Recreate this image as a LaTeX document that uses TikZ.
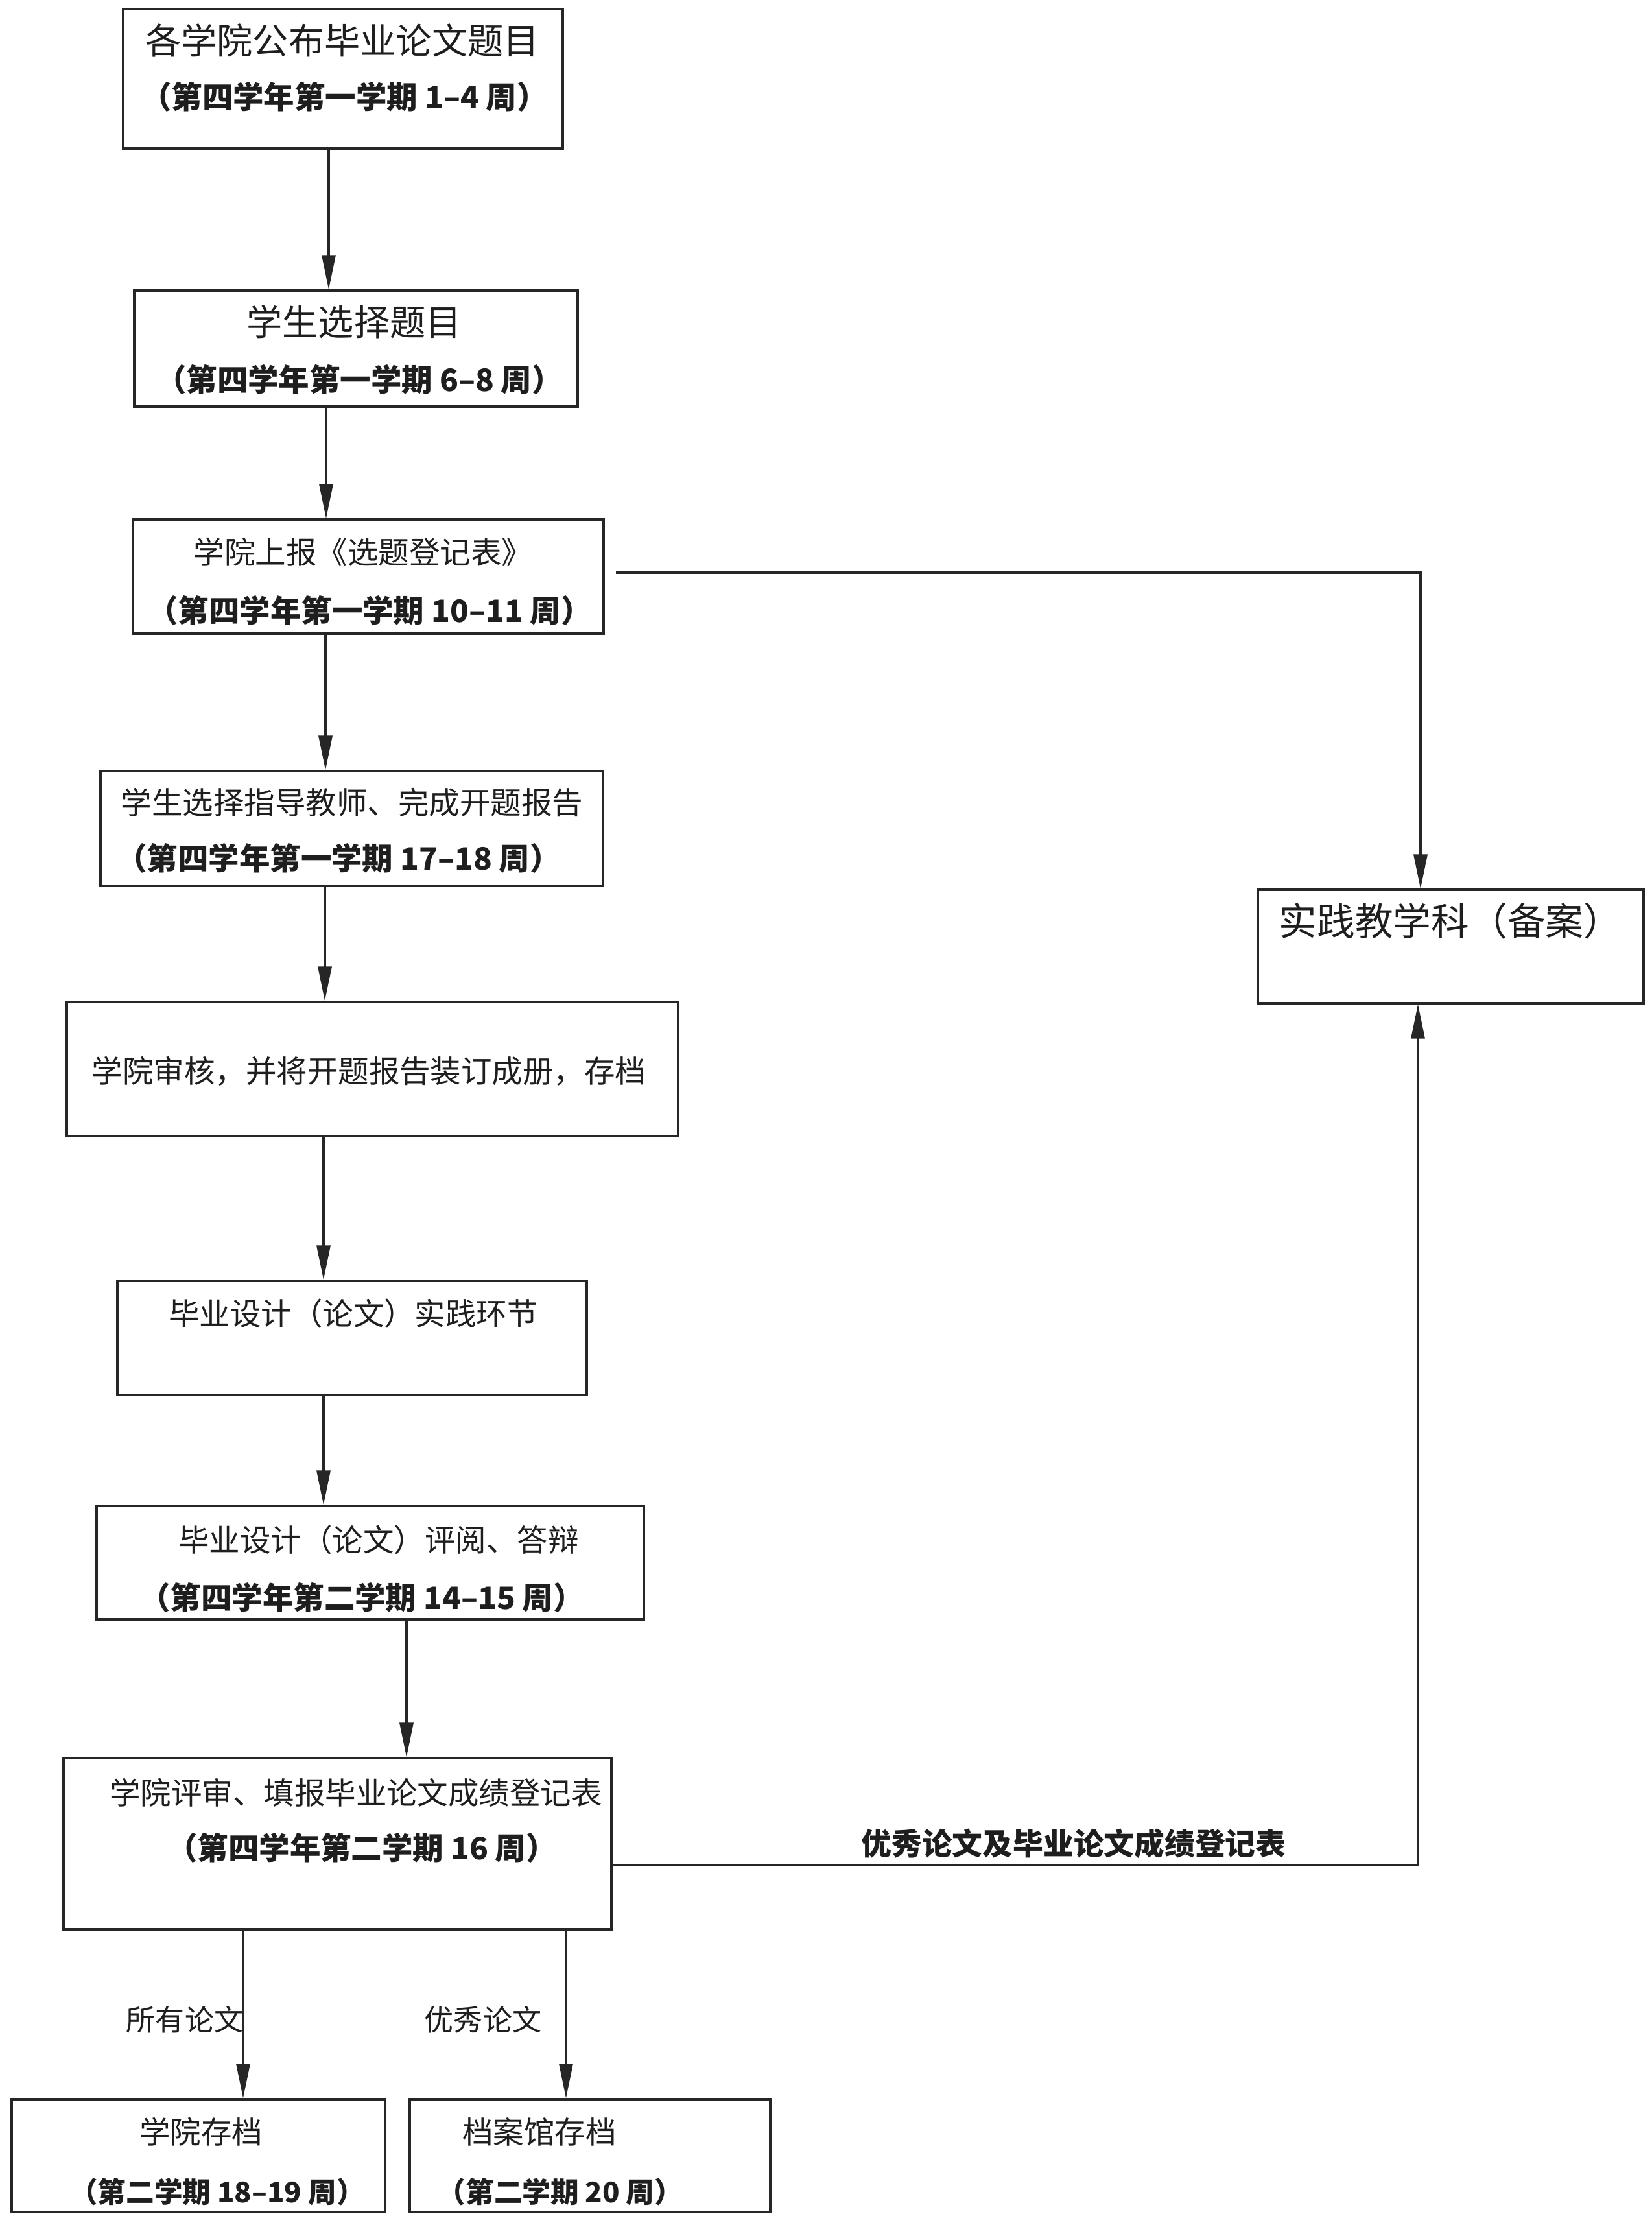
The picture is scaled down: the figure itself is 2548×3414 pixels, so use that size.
\documentclass[tikz,border=0pt]{standalone}
\usepackage{fontspec}
\setmainfont{Noto Sans CJK SC}
\usetikzlibrary{arrows.meta,fit}
\definecolor{ink}{HTML}{1E1E1E}
\definecolor{edge}{HTML}{262626}
\begin{document}
\begin{tikzpicture}[x=0.01cm,y=-0.01cm,
  box/.style={draw=edge, line width=0.9pt, inner sep=0pt},
  txt/.style={inner sep=0pt, text=ink},
  arr/.style={draw=edge, line width=0.9pt, -{Triangle[length=5.3mm,width=2.1mm]}},
  fbig/.style={font=\fontsize{15.7pt}{18pt}\selectfont},
  fmid/.style={font=\fontsize{13.5pt}{16pt}\selectfont},
  fsub/.style={font=\fontsize{13.5pt}{16pt}\selectfont\bfseries},
  fsubs/.style={font=\fontsize{12.4pt}{15pt}\selectfont\bfseries},
  fside/.style={font=\fontsize{16.7pt}{19pt}\selectfont},
  flab/.style={font=\fontsize{13.3pt}{16pt}\selectfont\bfseries},
  fsmall/.style={font=\fontsize{12.8pt}{15pt}\selectfont}]
\useasboundingbox (0,0) rectangle (2548,3414);
\fill[white] (0,0) rectangle (2548,3414);

% boxes
\node[box, fit={(190,14)(868,229)}] (b1) {};
\node[box, fit={(207,448)(891,627)}] (b2) {};
\node[box, fit={(205,801)(931,977)}] (b3) {};
\node[box, fit={(155,1189)(930,1366)}] (b4) {};
\node[box, fit={(103,1545)(1046,1752)}] (b5) {};
\node[box, fit={(181,1975)(905,2151)}] (b6) {};
\node[box, fit={(149,2322)(993,2497)}] (b7) {};
\node[box, fit={(98,2711)(943,2975)}] (b8) {};
\node[box, fit={(18,3237)(594,3411)}] (b9) {};
\node[box, fit={(632,3237)(1188,3411)}] (b10) {};
\node[box, fit={(1940,1372)(2535,1547)}] (b11) {};

% texts
\node[txt, fbig] (t1a) at (528,62) {各学院公布毕业论文题目};
\node[txt, fsub] (t1b) at (531,149) {（第四学年第一学期 1–4 周）};
\node[txt, fbig] (t2a) at (546,496) {学生选择题目};
\node[txt, fsub] (t2b) at (554,585) {（第四学年第一学期 6–8 周）};
\node[txt, fmid] (t3a) at (560,851) {学院上报《选题登记表》};
\node[txt, fsub] (t3b) at (570,941) {（第四学年第一学期 10–11 周）};
\node[txt, fmid] (t4a) at (543,1237) {学生选择指导教师、完成开题报告};
\node[txt, fsub] (t4b) at (522,1323) {（第四学年第一学期 17–18 周）};
\node[txt, fmid] (t5) at (569,1652) {学院审核，并将开题报告装订成册，存档};
\node[txt, fmid] (t6) at (545,2025) {毕业设计（论文）实践环节};
\node[txt, fmid] (t7a) at (584,2374) {毕业设计（论文）评阅、答辩};
\node[txt, fsub] (t7b) at (558,2463) {（第四学年第二学期 14–15 周）};
\node[txt, fmid] (t8a) at (549,2764) {学院评审、填报毕业论文成绩登记表};
\node[txt, fsub] (t8b) at (558,2849) {（第四学年第二学期 16 周）};
\node[txt, fmid] (t9a) at (310,3287) {学院存档};
\node[txt, fsubs] (t9b) at (335,3380) {（第二学期 18–19 周）};
\node[txt, fmid] (t10a) at (832,3287) {档案馆存档};
\node[txt, fsubs] (t10b) at (864,3380) {（第二学期 20 周）};
\node[txt, fside] (t11) at (2237,1420) {实践教学科（备案）};

% arrow x positions
\coordinate (x12) at (507,0);
\coordinate (x23) at (503,0);
\coordinate (x34) at (502,0);
\coordinate (x45) at (501,0);
\coordinate (x56) at (499,0);
\coordinate (x67) at (499,0);
\coordinate (x78) at (627,0);
\coordinate (x89) at (375,0);
\coordinate (x810) at (873,0);

\draw[arr] (b1.south -| x12) -- (b2.north -| x12);
\draw[arr] (b2.south -| x23) -- (b3.north -| x23);
\draw[arr] (b3.south -| x34) -- (b4.north -| x34);
\draw[arr] (b4.south -| x45) -- (b5.north -| x45);
\draw[arr] (b5.south -| x56) -- (b6.north -| x56);
\draw[arr] (b6.south -| x67) -- (b7.north -| x67);
\draw[arr] (b7.south -| x78) -- (b8.north -| x78);
\draw[arr] (b8.south -| x89) -- (b9.north -| x89);
\draw[arr] (b8.south -| x810) -- (b10.north -| x810);

% side connectors
\coordinate (j3) at (950,883);
\coordinate (k3) at (2191,883);
\draw[arr] (j3) -- (k3) -- (b11.north -| k3);
\coordinate (k8) at (2187,2876);
\draw[arr] (b8.east |- k8) -- (k8) -- (b11.south -| k8);

% labels
\node[txt, flab] (lab) at (1656,2843) {优秀论文及毕业论文成绩登记表};
\node[txt, fsmall] (l9) at (285,3114) {所有论文};
\node[txt, fsmall] (l10) at (745,3114) {优秀论文};
\end{tikzpicture}
\end{document}
